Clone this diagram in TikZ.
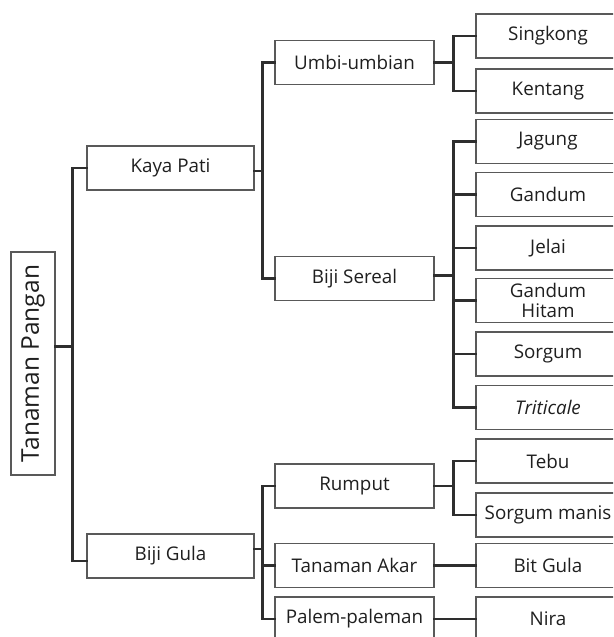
\documentclass[tikz,border=0pt]{standalone}
\usepackage{fontspec}
\setmainfont{Open Sans}
\definecolor{boxline}{HTML}{595959}
\definecolor{linkline}{HTML}{2E2E2E}
\definecolor{txt}{HTML}{1F1F1F}
\begin{document}
\begin{tikzpicture}[x=1pt, y=-1pt,
    box/.style={draw=boxline, line width=1.3pt, fill=white, text=txt, inner sep=0pt,
      minimum height=44, font=\fontsize{18.8}{21}\selectfont},
    lvl1/.style={box, minimum width=167},
    lvl2/.style={box, minimum width=159},
    leaf/.style={box, minimum width=144, align=center},
    link/.style={draw=linkline, line width=2.4pt, line cap=rect}]
  \useasboundingbox (0,0) rectangle (613,637);
  \clip (0,0) rectangle (613,637);
  % Root
  \node[box, rotate=90, minimum width=223, font=\fontsize{24.5}{28}\selectfont]
    (root) at (33,363.5) {Tanaman Pangan};
  % Level 1
  \node[lvl1] (kaya) at (170.5,168) {Kaya Pati};
  \node[lvl1] (gula) at (170.5,556) {Biji Gula};
  % Level 2
  \node[lvl2] (umbi)   at (354.5,62.5)  {Umbi-umbian};
  \node[lvl2] (sereal) at (354.5,278.5) {Biji Sereal};
  \node[lvl2] (rumput) at (354.5,486)   {Rumput};
  \node[lvl2] (akar)   at (354.5,565.5) {Tanaman Akar};
  \node[lvl2] (palem)  at (354.5,619)   {Palem-paleman};
  % Leaves
  \node[leaf] (singkong) at (548,36)    {Singkong};
  \node[leaf] (kentang)  at (548,91)    {Kentang};
  \node[leaf] (jagung)   at (548,141.5) {Jagung};
  \node[leaf] (gandum)   at (548,194.5) {Gandum};
  \node[leaf] (jelai)    at (548,248)   {Jelai};
  \node[leaf, font=\fontsize{18.8}{20}\selectfont] (hitam) at (548,300.5) {Gandum\\Hitam};
  \node[leaf] (sorgum)   at (548,354)   {Sorgum};
  \node[leaf] (triti)    at (548,407.5) {\itshape Triticale};
  \node[leaf] (tebu)     at (548,461)   {Tebu};
  \node[leaf] (manis)    at (548,515)   {Sorgum manis};
  \node[leaf] (bitgula)  at (548,565.5) {Bit Gula};
  \node[leaf] (nira)     at (548,619)   {Nira};
  % Root to level 1 (root is turned, its right side is south)
  \draw[link] (kaya.west) -- ++(-14,0) |- ([yshift=17]root.south);
  \draw[link] ([yshift=-5]gula.west) -- ++(-14,0) |- ([yshift=17]root.south);
  % Kaya Pati
  \draw[link] (umbi.west) -- ++(-12,0) |- ([yshift=-3]kaya.east);
  \draw[link] (sereal.west) -- ++(-12,0) |- ([yshift=-3]kaya.east);
  % Biji Gula
  \foreach \n in {rumput, akar, palem}
    \draw[link] (\n.west) -- ++(-12,0) |- ([yshift=7]gula.east);
  % Umbi-umbian
  \foreach \n in {singkong, kentang}
    \draw[link] (\n.west) -- ++(-22,0) |- (umbi.east);
  % Biji Sereal
  \foreach \n in {jagung, gandum, jelai, hitam, sorgum, triti}
    \draw[link] (\n.west) -- ++(-22,0) |- ([yshift=3]sereal.east);
  % Rumput
  \foreach \n in {tebu, manis}
    \draw[link] (\n.west) -- ++(-22,0) |- (rumput.east);
  % Akar and palem
  \draw[link] (akar.east) -- (bitgula.west);
  \draw[link] (palem.east) -- (nira.west);
\end{tikzpicture}
\end{document}
